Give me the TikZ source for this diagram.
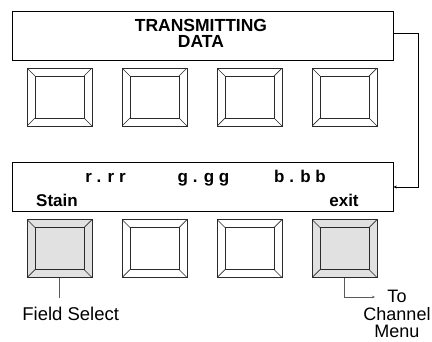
\documentclass[tikz,border=0pt]{standalone}
\usepackage{fontspec}
\setmainfont{Liberation Sans}
\usetikzlibrary{arrows.meta,calc}
\definecolor{KeyGray}{HTML}{E1E1E1}
\definecolor{KeyEdge}{HTML}{2A2A2A}
\definecolor{LeadGray}{HTML}{5A5A5A}
\tikzset{
  panel/.style={draw=black,line width=0.8pt,minimum width=381pt,minimum height=49pt,inner sep=0pt},
  softkey/.style={draw=KeyEdge,line width=0.8pt,minimum width=65pt,minimum height=58pt,inner sep=0pt,
    path picture={
      \draw[KeyEdge,line width=0.7pt] ($(path picture bounding box.south west)+(8pt,8pt)$) rectangle ($(path picture bounding box.north east)+(-8pt,-8pt)$);
      \foreach \c/\dx/\dy in {south west/8/8,south east/-8/8,north east/-8/-8,north west/8/-8}
        \draw[KeyEdge,line width=0.7pt] (path picture bounding box.\c) -- ++(\dx pt,\dy pt);
    }},
  boldlbl/.style={inner sep=0pt,font=\fontsize{17}{16.5}\selectfont\bfseries},
  plainlbl/.style={inner sep=0pt,font=\fontsize{18.5}{17.5}\selectfont},
  lead/.style={LeadGray,line width=0.8pt},
}
\begin{document}
\begin{tikzpicture}[x=1pt,y=-1pt]
  \useasboundingbox (0,0) rectangle (432,341);
  % displays
  \node[panel] (upper) at (202.5,36) {};
  \node[boldlbl,align=center,font=\fontsize{17.5}{16.5}\selectfont\bfseries] (title) at (201,33.5) {TRANSMITTING\\DATA};
  \node[panel] (lower) at (202.5,187) {};
  \node[boldlbl,anchor=base] (red) at (105.5,182) {r . r r};
  \node[boldlbl,anchor=base] (green) at (203.5,182) {g . g g};
  \node[boldlbl,anchor=base] (blue) at (300,182) {b . b b};
  \node[boldlbl,anchor=base] (stain) at (57,206) {Stain};
  \node[boldlbl,anchor=base] (exit) at (344,206) {exit};
  \draw[line width=0.7pt,-{Stealth[length=3.5pt,width=3pt]}] ([yshift=2.7pt]upper.east) -- ++(25pt,0) |- (lower.east);
  % soft keys
  \foreach \i in {1,...,4}
    \node[softkey] (k\i) at ({59.5+95*(\i-1)},97) {};
  \foreach \i/\f in {5/KeyGray,6/white,7/white,8/KeyGray}
    \node[softkey,fill=\f] (k\i) at ({59.5+95*(\i-5)},248.5) {};
  % callouts
  \node[plainlbl,anchor=base] (fsel) at (70.7,320) {Field Select};
  \draw[lead] (k5.south) -- (k5.south |- fsel.north) [shorten >=8pt];
  \node[plainlbl,align=center,anchor=north,font=\fontsize{18}{17.5}\selectfont] (chan) at (397,290) {To\\Channel\\Menu};
  \coordinate (chanin) at (375,297);
  \draw[lead,-{Stealth[length=3pt,width=2.5pt]}] (k8.south) |- (chanin);
\end{tikzpicture}
\end{document}
